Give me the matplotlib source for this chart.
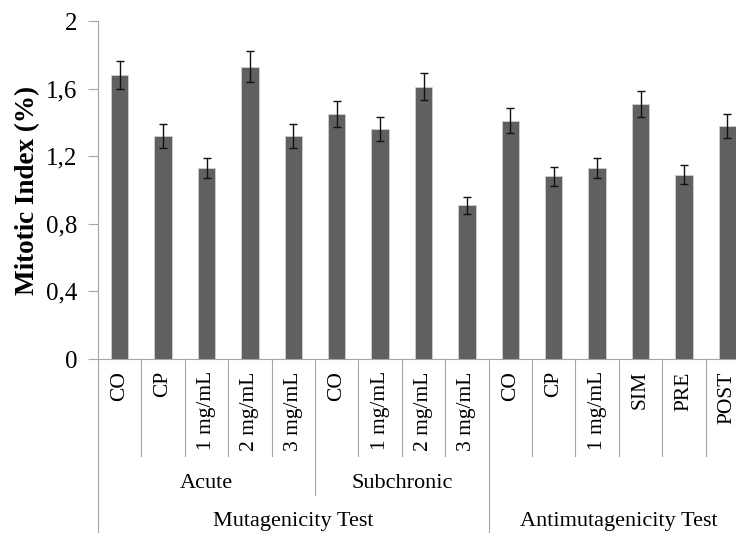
import matplotlib.pyplot as plt
import numpy as np

plt.rcParams['font.family'] = ['Liberation Serif', 'DejaVu Serif']

categories = ['CO', 'CP', '1 mg/mL', '2 mg/mL', '3 mg/mL',
              'CO', '1 mg/mL', '2 mg/mL', '3 mg/mL',
              'CO', 'CP', '1 mg/mL', 'SIM', 'PRE', 'POST']
values = [1.68, 1.32, 1.13, 1.73, 1.32,
          1.45, 1.36, 1.61, 0.91,
          1.41, 1.08, 1.13, 1.51, 1.09, 1.38]
errors = [0.085, 0.07, 0.06, 0.09, 0.07,
          0.075, 0.07, 0.08, 0.05,
          0.075, 0.055, 0.06, 0.077, 0.055, 0.07]
subgroups = [('Acute', 0, 5), ('Subchronic', 5, 9)]
groups = [('Mutagenicity Test', 0, 9), ('Antimutagenicity Test', 9, 15)]
yticks = [0, 0.4, 0.8, 1.2, 1.6, 2.0]

grey = '#a6a6a6'

fig = plt.figure(figsize=(7.36, 5.33), dpi=100)
# axes runs past the right edge, like the cropped original
ax = fig.add_axes([98 / 736, 174 / 533, 651 / 736, 338 / 533])

x = np.arange(len(categories))
ax.bar(x, values, width=0.4, color='#606060', edgecolor='#d0d0d0', linewidth=0.6,
       zorder=2)
ax.errorbar(x, values, yerr=errors, fmt='none', ecolor='#111111', elinewidth=1,
            capsize=2.8, capthick=1, zorder=3)

ax.set_xlim(-0.5, len(categories) - 0.5)
ax.set_ylim(0, 2)
ax.set_yticks(yticks)
ax.set_yticklabels([f'{t:g}'.replace('.', ',') for t in yticks], fontsize=18)
ax.tick_params(axis='y', length=7, width=0.8, color=grey, pad=8)

for s in ['top', 'right']:
    ax.spines[s].set_visible(False)
ax.spines['left'].set_color(grey)
ax.spines['bottom'].set_color(grey)
ax.spines['left'].set_linewidth(0.8)
ax.spines['bottom'].set_linewidth(0.8)

ax.set_xticks([])
ax.set_ylabel('Mitotic Index (%)', fontsize=19.5, fontweight='bold', labelpad=4)

tr = ax.get_xaxis_transform()
for i, lab in enumerate(categories):
    ax.text(i, -0.036, lab, transform=tr, rotation=90, ha='center', va='top',
            fontsize=15.5)

# separators under the axis
y_cat, y_sub, y_bot = -0.287, -0.402, -0.53
for b in range(len(categories) + 1):
    pos = b - 0.5
    if b in (0, 9, 15):
        y_end = y_bot
    elif b == 5:
        y_end = y_sub
    else:
        y_end = y_cat
    ax.plot([pos, pos], [0, y_end], transform=tr, color=grey, lw=0.8,
            clip_on=False)

for name, a, b in subgroups:
    ax.text((a + b - 1) / 2, -0.368, name, transform=tr, ha='center', va='center',
            fontsize=16)
for name, a, b in groups:
    ax.text((a + b - 1) / 2, -0.48, name, transform=tr, ha='center', va='center',
            fontsize=16)

fig.savefig('out.png', dpi=100)
